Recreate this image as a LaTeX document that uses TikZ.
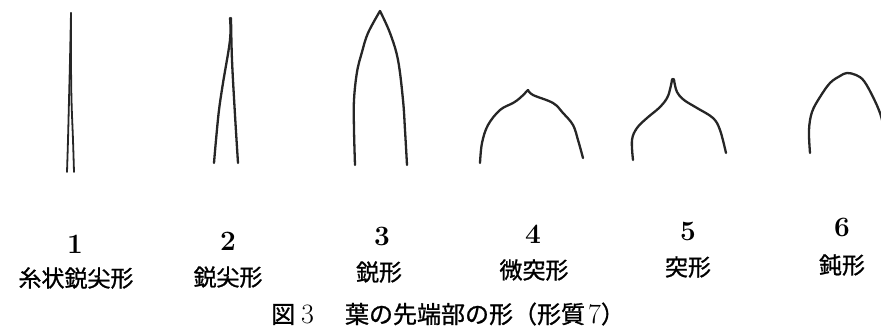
\documentclass[tikz,border=0pt]{standalone}
\usepackage{fontspec}
\newfontfamily\jp[FakeBold=1]{Noto Sans CJK JP}
\begin{document}
\begin{tikzpicture}[x=1pt,y=-1pt,
  leaf/.style={draw=black!85, line width=2.3pt, line cap=round, line join=round},
  thinleaf/.style={leaf, line width=1.8pt},
  num/.style={inner sep=0pt, font=\bfseries\fontsize{28}{30}\selectfont},
  lbl/.style={inner sep=0pt, font=\jp\fontsize{23}{25}\selectfont},
  captiontext/.style={inner sep=0pt, font=\fontsize{24}{26}\selectfont},
  capdigit/.style={font=\fontsize{28}{30}\selectfont}]
\useasboundingbox (0,0) rectangle (881,327);
\clip (0,0) rectangle (881,327);

% 1: filiform acuminate tip
\draw[thinleaf] plot[smooth, tension=0.6] coordinates {(71,13) (70,60) (69,100) (68,140) (67,172)};
\draw[thinleaf] plot[smooth, tension=0.6] coordinates {(71,13) (71,60) (71.5,100) (73,140) (74,172)};

% 2: acuminate tip
\draw[leaf] plot[smooth, tension=0.6] coordinates {(230,18) (230,40) (223,83) (219,110) (216,140) (214,163)};
\draw[leaf] plot[smooth, tension=0.6] coordinates {(231,18) (232,60) (235,115) (238,163)};

% 3: acute tip
\draw[leaf] plot[smooth, tension=0.6] coordinates {(355,165) (354,130) (354,100) (357,72) (362,52) (368,33) (380,11)};
\draw[leaf] plot[smooth, tension=0.6] coordinates {(380,11) (390,33) (398,60) (403,100) (405,130) (407,165)};

% 4: mucronulate tip
\draw[leaf] plot[smooth, tension=0.6] coordinates {(480,163) (482,143) (488,125) (500,110) (513,103) (520,98) (528,90)};
\draw[leaf] plot[smooth, tension=0.6] coordinates {(528,90) (533,95) (553,103) (563,113) (573,125) (578,140) (583,158)};

% 5: mucronate tip
\draw[leaf] plot[smooth, tension=0.6] coordinates {(633,160) (632,140) (637,128) (647,118) (660,107) (668,96) (672,80)};
\draw[leaf] plot[smooth, tension=0.6] coordinates {(674,80) (677,92) (684,100) (697,108) (713,118) (720,130) (726,153)};
\fill[black!85] (673,80) circle (2.2pt);

% 6: obtuse tip
\draw[leaf] plot[smooth, tension=0.6] coordinates {(810,153) (809,130) (812,112) (820,97) (830,83) (840,76) (847,73) (856,75) (864,81) (873,97) (880,113) (884,128)};

% numbers
\node[num] (n1) at (75,244) {1};
\node[num] (n2) at (228,241) {2};
\node[num] (n3) at (382,236) {3};
\node[num] (n4) at (533,234) {4};
\node[num] (n5) at (688,231) {5};
\node[num] (n6) at (842,227) {6};

% names
\node[lbl] (t1) at (76,278) {糸状鋭尖形};
\node[lbl] (t2) at (228,277) {鋭尖形};
\node[lbl] (t3) at (379,272) {鋭形};
\node[lbl] (t4) at (534,270) {微突形};
\node[lbl] (t5) at (688,267) {突形};
\node[lbl] (t6) at (842,265) {鈍形};

% caption
\node[captiontext, anchor=west] (fig) at (271,314)
  {{\jp 図}\hspace{6pt}{\fontsize{28}{30}\selectfont 3}\hspace{31pt}{\jp 葉の先端部の形（形質}\hspace{3pt}{\fontsize{28}{30}\selectfont 7}{\jp ）}};
\end{tikzpicture}
\end{document}
